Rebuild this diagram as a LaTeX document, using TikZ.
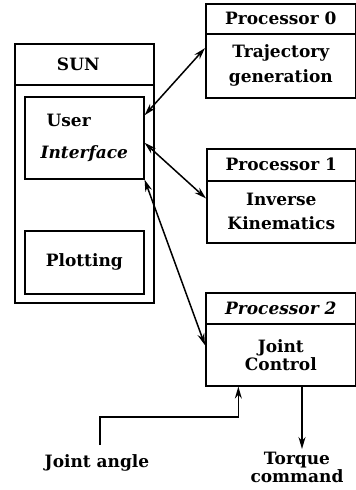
\documentclass[tikz,border=0pt]{standalone}
\usepackage{fontspec}
\setmainfont{DejaVu Serif}
\usetikzlibrary{arrows.meta,calc}
\begin{document}
\begin{tikzpicture}[x=1pt,y=-1pt,
  box/.style={draw,line width=1.6pt,inner sep=0pt,anchor=north west,
    font=\fontsize{17}{20}\selectfont\bfseries,align=center},
  lbl/.style={inner sep=0pt,font=\fontsize{17}{20}\selectfont\bfseries,align=center},
  arr/.style={line width=1.5pt,-{Stealth[length=12pt,width=7pt]}},
  darr/.style={line width=1.5pt,{Stealth[length=12pt,width=7pt]}-{Stealth[length=12pt,width=7pt]}}]
\useasboundingbox (0,0) rectangle (356,490);

% host workstation
\node[box,minimum width=139pt,minimum height=41pt] (sunh) at (14,43) {SUN\hspace{12pt}};
\node[box,minimum width=139pt,minimum height=218pt] (sun) at (14,84) {};
\node[box,minimum width=119pt,minimum height=82pt,align=left,
  font=\fontsize{17}{32}\selectfont\bfseries] (ui) at (24,96)
  {\hspace{6pt}User\\{\itshape Interface}};
\node[box,minimum width=119pt,minimum height=63pt] (plot) at (24,230) {Plotting};

% processors
\node[box,minimum width=150pt,minimum height=30pt] (p0h) at (205,3) {Processor 0};
\node[box,minimum width=150pt,minimum height=64pt,
  font=\fontsize{17}{25}\selectfont\bfseries] (p0) at (205,33) {Trajectory\\generation};
\node[box,minimum width=149pt,minimum height=32pt] (p1h) at (206,148) {Processor 1};
\node[box,minimum width=149pt,minimum height=62pt,
  font=\fontsize{17}{24}\selectfont\bfseries] (p1) at (206,180) {Inverse\\Kinematics};
\node[box,minimum width=150pt,minimum height=31pt] (p2h) at (205,292) {\itshape Processor 2};
\node[box,minimum width=150pt,minimum height=62pt,
  font=\fontsize{17}{18}\selectfont\bfseries] (p2) at (205,323) {Joint\\Control};

% links between the user interface and the processors
\draw[darr] ($(ui.north east)!0.23!(ui.south east)$) -- ($(p0.north west)!0.23!(p0.south west)$);
\draw[darr] ($(ui.north east)!0.56!(ui.south east)$) -- ($(p1.north west)!0.29!(p1.south west)$);
\draw[darr] (ui.south east) -- ($(p2.north west)!0.35!(p2.south west)$);

% sensor input and actuator output
\coordinate (ja) at (100,445);
\coordinate (tq) at (302,449);
\draw[arr] (ja) -- ++(0,-28) -| ($(p2.south west)!0.22!(p2.south east)$);
\draw[arr] (p2.south -| tq) -- (tq);

\node[lbl,anchor=base] (jal) at (97,467) {Joint angle};
\node[lbl,anchor=north,font=\fontsize{17}{14}\selectfont\bfseries] (tql) at (297,452) {Torque\\command};
\end{tikzpicture}
\end{document}
